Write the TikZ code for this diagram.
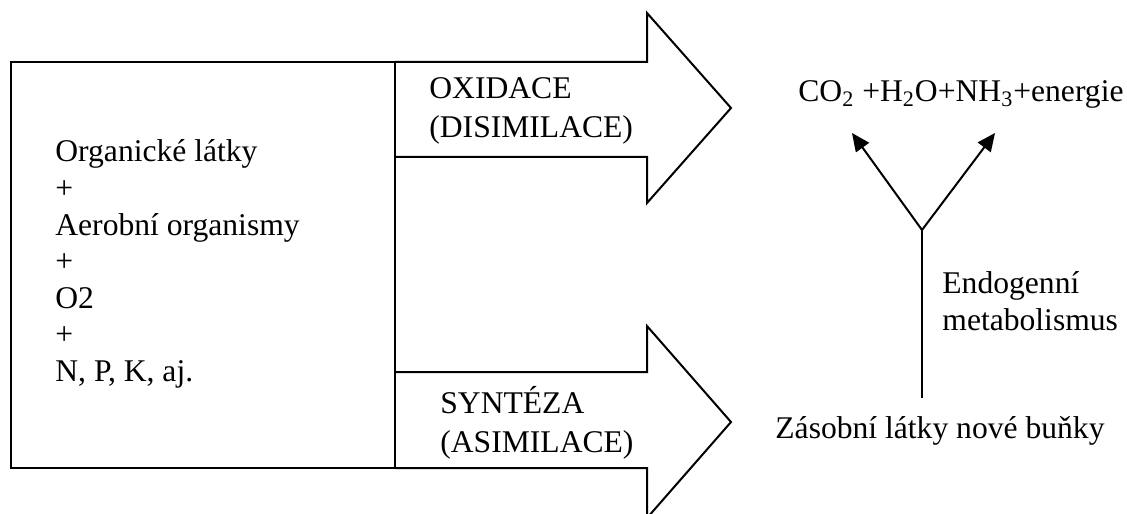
\documentclass[tikz,border=0pt]{standalone}
\usepackage{fontspec}
\setmainfont{Liberation Serif}
\usetikzlibrary{arrows.meta, calc, positioning}

\tikzset{
  txt/.style={anchor=base west, inner sep=0pt, font=\fontsize{15.8}{19}\selectfont},
  blockarrow/.style={draw, line width=1pt, line join=miter},
  flow/.style={line width=1pt, -{Triangle[length=9pt, width=8pt]}}
}

\begin{document}
\begin{tikzpicture}[x=0.5pt, y=-0.5pt]
\useasboundingbox (0,0) rectangle (1127,513);

% Block arrows
\draw[blockarrow] (395,62) -- (647,62) -- (647,13) -- (731,108) -- (647,203) -- (647,157) -- (395,157);
\draw[blockarrow] (395,372) -- (647,372) -- (647,326) -- (731,422) -- (647,518) -- (647,468) -- (395,468);

% Input box
\draw[line width=1pt] (11,62) rectangle (395,468);
\foreach \t [count=\i] in {Organické látky, +, Aerobní organismy, +, O2, +, {N, P, K, aj.}}
  \node[txt] (in\i) at (55, 125.5+36.5*\i) {\t};

\node[txt] (ox1) at (429,99) {OXIDACE};
\node[txt] (ox2) at (429,138) {(DISIMILACE)};
\node[txt] (syn1) at (440,413) {SYNTÉZA};
\node[txt] (syn2) at (440,452) {(ASIMILACE)};

% Products
\node[txt] (products) at (798,102) {CO\textsubscript{2} +H\textsubscript{2}O+NH\textsubscript{3}+energie};
\node[txt] (reserve) at (775,438) {Zásobní látky nové buňky};
\node[txt] (endo1) at (942,293) {Endogenní};
\node[txt] (endo2) at (942,330) {metabolismus};

% Endogenous metabolism fork
\coordinate (stem) at (922,398);
\coordinate (fork) at (922,230);
\coordinate (tipL) at (852,133);
\coordinate (tipR) at (995,133);
\draw[line width=1pt] (stem) -- (fork);
\draw[flow] (fork) -- (tipL);
\draw[flow] (fork) -- (tipR);
\end{tikzpicture}
\end{document}
